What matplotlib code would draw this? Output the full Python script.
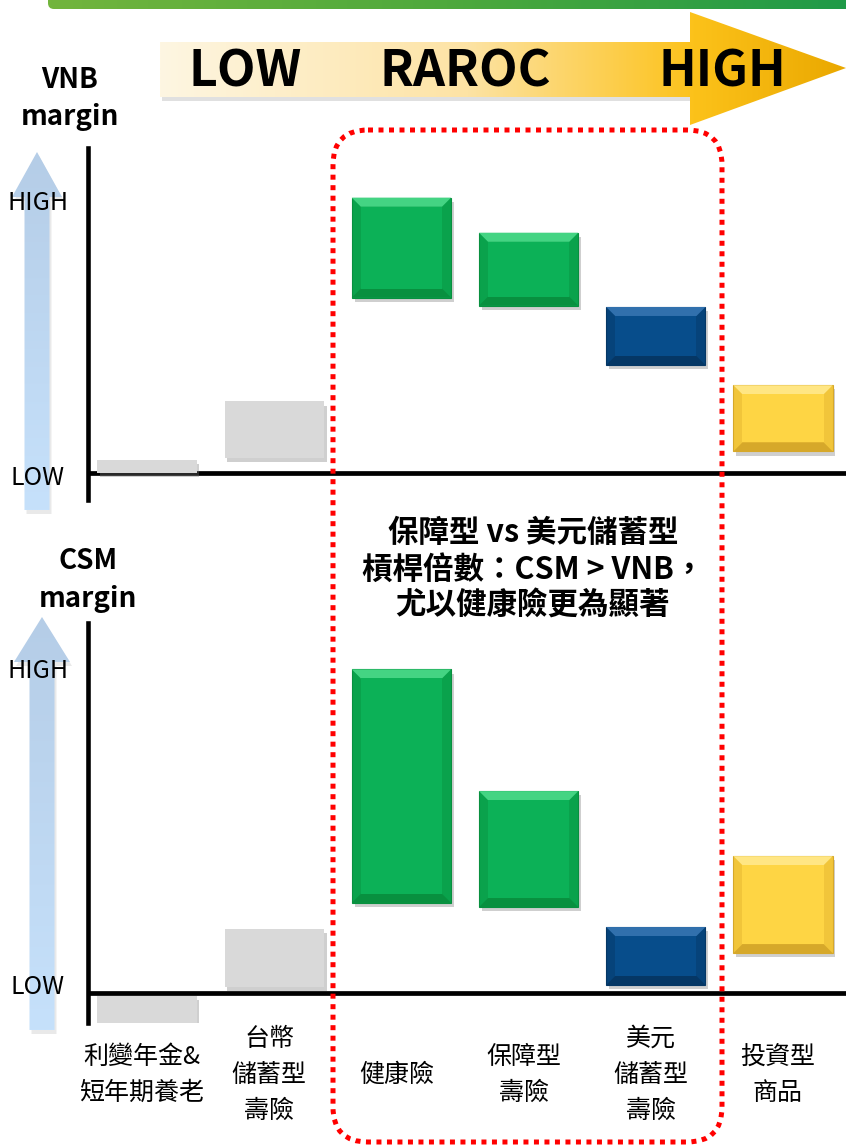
import numpy as np
import matplotlib
matplotlib.use('Agg')
import matplotlib.pyplot as plt
import matplotlib.patheffects as pe
import matplotlib.transforms as mtrans
from matplotlib.patches import Polygon, FancyBboxPatch
from matplotlib.colors import LinearSegmentedColormap

plt.rcParams['font.family'] = ['Noto Sans CJK TC', 'DejaVu Sans']

# data (0 = LOW axis, 10 = HIGH mark)
categories = ['利變年金&\n短年期養老', '台幣\n儲蓄型\n壽險', '健康險',
              '保障型\n壽險', '美元\n儲蓄型\n壽險', '投資型\n商品']
vnb_low = [0.0, 0.55, 6.5, 6.2, 4.0, 0.8]
vnb_high = [0.5, 2.65, 10.2, 8.9, 6.15, 3.25]
csm_low = [-1.0, 0.2, 2.8, 2.67, 0.25, 1.24]
csm_high = [-0.08, 2.0, 10.05, 6.27, 2.05, 4.25]
bar_kind = ['gray', 'gray', 'green', 'green', 'blue', 'yellow']
raroc_labels = ['LOW', 'RAROC', 'HIGH']
note_lines = ['保障型 vs 美元儲蓄型', '槓桿倍數：CSM > VNB，', '尤以健康險更為顯著']

# colours: (main, top bevel, bottom bevel, sides)
styles = {
    'green': ('#0cb157', '#44d483', '#08903f', '#0aa24c'),
    'blue': ('#074d8b', '#3170ad', '#053765', '#06437a'),
    'yellow': ('#fed544', '#ffe684', '#d6a82a', '#f1c53a'),
}
GRAY = '#d9d9d9'

W, H = 846, 1145
fig = plt.figure(figsize=(W / 100, H / 100), dpi=100)

# background layer in pixel coords
bg = fig.add_axes([0, 0, 1, 1], zorder=0)
bg.set_xlim(0, W)
bg.set_ylim(H, 0)
bg.axis('off')

# green strip on top
strip = FancyBboxPatch((48, -6), W, 15, boxstyle='round,pad=0,rounding_size=6',
                       fc='none', ec='none')
bg.add_patch(strip)
gcm = LinearSegmentedColormap.from_list('g', ['#72b53c', '#4ea93c', '#1f9a48'])
im = bg.imshow(np.linspace(0, 1, 256)[None, :], cmap=gcm, aspect='auto',
               extent=(48, W, 9, -6), zorder=2)
im.set_clip_path(strip)

# RAROC arrow
arrow_pts = [(160, 42), (690, 42), (690, 12), (W, 68), (690, 125), (690, 97), (160, 97)]
shadow = Polygon([(p[0] + 2, p[1] + 4) for p in arrow_pts[:2] + arrow_pts[5:]] +
                 [], closed=True, fc='#999999', ec='none', alpha=0.3, zorder=1)
bg.add_patch(shadow)
arr = Polygon(arrow_pts, closed=True, fc='none', ec='none')
bg.add_patch(arr)
acm = LinearSegmentedColormap.from_list(
    'a', [(0, '#fef6e2'), (0.45, '#fde3a4'), (0.78, '#fcc21a'), (1, '#eaa800')])
im = bg.imshow(np.linspace(0, 1, 256)[None, :], cmap=acm, aspect='auto',
               extent=(160, W, 125, 12), zorder=2)
im.set_clip_path(arr)
for lab, xp in zip(raroc_labels, [245, 465, 722]):
    bg.text(xp, 72, lab, fontsize=36, fontweight='bold', ha='center', va='center',
            zorder=3)

# light blue up arrows
bcm = LinearSegmentedColormap.from_list('b', ['#b5cde7', '#c6e1fb'])


def up_arrow(cx, tip, bottom, shaft_w, head_w, head_len):
    pts = [(cx - shaft_w / 2, bottom), (cx - shaft_w / 2, tip + head_len),
           (cx - head_w / 2, tip + head_len), (cx, tip),
           (cx + head_w / 2, tip + head_len), (cx + shaft_w / 2, tip + head_len),
           (cx + shaft_w / 2, bottom)]
    sh = Polygon([(x + 2, y + 4) for x, y in pts], closed=True, fc='#aaaaaa',
                 ec='none', alpha=0.25, zorder=1)
    bg.add_patch(sh)
    p = Polygon(pts, closed=True, fc='none', ec='none')
    bg.add_patch(p)
    img = bg.imshow(np.linspace(0, 1, 256)[:, None], cmap=bcm, aspect='auto',
                    extent=(cx - head_w / 2, cx + head_w / 2, bottom, tip), zorder=2)
    img.set_clip_path(p)


up_arrow(37, 152, 510, 25, 50, 45)
up_arrow(42, 617, 1030, 25, 56, 45)

bg.text(70, 80, 'VNB', fontsize=20, fontweight='bold', ha='center', va='center')
bg.text(70, 117, 'margin', fontsize=20, fontweight='bold', ha='center', va='center')
bg.text(88, 561, 'CSM', fontsize=20, fontweight='bold', ha='center', va='center')
bg.text(88, 599, 'margin', fontsize=20, fontweight='bold', ha='center', va='center')
bg.set_xlim(0, W)
bg.set_ylim(H, 0)

# panels
x = np.arange(len(categories))
bar_w = 0.78
shadow_fx = [pe.SimplePatchShadow(offset=(2, -3), alpha=0.35, shadow_rgbFace='#777777'),
             pe.Normal()]


def draw_panel(rect, ylim, lows, highs, low_y):
    ax = fig.add_axes(rect, zorder=2)
    ax.set_facecolor('none')
    ax.set_xlim(-0.464, 5.495)
    ax.set_ylim(*ylim)
    ax.set_xticks([])
    ax.set_yticks([])
    for s in ['top', 'right', 'bottom']:
        ax.spines[s].set_visible(False)
    ax.spines['left'].set_linewidth(3.3)
    ax.axhline(0, color='black', lw=3.4, zorder=1)

    p0 = ax.transData.transform((0, 0))
    p1 = ax.transData.transform((1, 1))
    dx = 9 / (p1[0] - p0[0])
    dy = 9 / (p1[1] - p0[1])

    for xi, lo, hi, kind in zip(x, lows, highs, bar_kind):
        if kind == 'gray':
            ax.bar(xi, hi - lo, bottom=lo, width=bar_w, color=GRAY, zorder=3,
                   path_effects=shadow_fx)
            continue
        main, light, dark, side = styles[kind]
        ax.bar(xi, hi - lo, bottom=lo, width=bar_w, color=side, ec=dark, lw=0.8,
               zorder=3, path_effects=shadow_fx)
        l, r = xi - bar_w / 2, xi + bar_w / 2
        ax.fill([l, r, r - dx, l + dx], [hi, hi, hi - dy, hi - dy], color=light,
                zorder=4, lw=0)
        ax.fill([l, r, r - dx, l + dx], [lo, lo, lo + dy, lo + dy], color=dark,
                zorder=4, lw=0)
        ax.bar(xi, hi - lo - 2 * dy, bottom=lo + dy, width=bar_w - 2 * dx,
               color=main, zorder=5)

    tr = mtrans.blended_transform_factory(fig.transFigure, ax.transData)
    ax.text(rect[0] - 50 / W, 10, 'HIGH', transform=tr, fontsize=18, ha='center',
            va='center', clip_on=False)
    ax.text(rect[0] - 50 / W, low_y, 'LOW', transform=tr, fontsize=18, ha='center',
            va='center', clip_on=False)
    return ax


top = draw_panel([88 / W, 1 - 500 / H, 758 / W, 352 / H], (-1.0, 12.04),
                 vnb_low, vnb_high, -0.19)
bot = draw_panel([88 / W, 1 - 1023 / H, 758 / W, 400 / H], (-0.93, 11.49),
                 csm_low, csm_high, 0.19)

# category labels under the lower panel
tr = mtrans.blended_transform_factory(bot.transData, fig.transFigure)
for xi, cat in zip(x, categories):
    lines = cat.split('\n')
    n = len(lines)
    for k, line in enumerate(lines):
        ypx = 1075 + (k - (n - 1) / 2) * 36
        bot.text(xi - 0.04, 1 - ypx / H, line, transform=tr, fontsize=18,
                 fontweight='medium', ha='center', va='center', clip_on=False)

# foreground: dotted box and note
fg = fig.add_axes([0, 0, 1, 1], zorder=5)
fg.set_facecolor('none')
fg.set_xlim(0, W)
fg.set_ylim(H, 0)
fg.axis('off')
box = FancyBboxPatch((333, 130), 389, 1012, boxstyle='round,pad=0,rounding_size=35',
                     fill=False, ec='#ff0000', lw=3.6, linestyle=(0, (1, 1.1)))
fg.add_patch(box)
for line, ypx in zip(note_lines, [533, 570, 606]):
    fg.text(533, ypx, line, fontsize=22, fontweight='bold', ha='center', va='center')

fig.savefig('out.png', dpi=100)
